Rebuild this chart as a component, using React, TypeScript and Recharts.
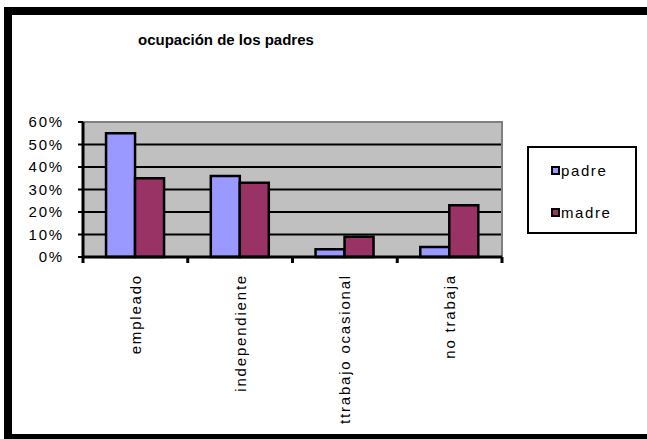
import { BarChart, Bar, XAxis, YAxis, CartesianGrid, ReferenceArea, Legend } from 'recharts'

const categories = ['empleado', 'independiente', 'ttrabajo ocasional', 'no trabaja']
const padre = [55, 36, 3.5, 4.5]
const madre = [35, 33, 9, 23]
const yTicks = [0, 10, 20, 30, 40, 50, 60]
const gridValues = [10, 20, 30, 40, 50]

const series = [
  { key: 'padre', name: 'padre', color: '#9999ff' },
  { key: 'madre', name: 'madre', color: '#993366' },
]

const data = categories.map((name, i) => ({ name, padre: padre[i], madre: madre[i] }))

const font = '"Liberation Sans", Arial, sans-serif'

const YTick = ({ x, y, payload }: any) => (
  <text x={x} y={y} dy="0.36em" textAnchor="end" fill="#000" fontSize={15} fontFamily={font} letterSpacing="1.8px">
    {payload.value}%
  </text>
)

// category label plus tick marks on the category boundaries
const XTick = ({ x, y, payload, index, visibleTicksCount }: any) => {
  const half = payload.offset ?? 0
  const ty = y + 17
  return (
    <g>
      <line x1={x - half} x2={x - half} y1={y} y2={y + 6} stroke="#000" strokeWidth={3} />
      {index === visibleTicksCount - 1 && (
        <line x1={x + half} x2={x + half} y1={y} y2={y + 6} stroke="#000" strokeWidth={3} />
      )}
      <text
        x={x}
        y={ty}
        dy="0.36em"
        textAnchor="end"
        fill="#000"
        fontSize={15}
        fontFamily={font}
        letterSpacing="1.8px"
        transform={`rotate(-90, ${x}, ${ty})`}
      >
        {payload.value}
      </text>
    </g>
  )
}

const LegendBox = () => (
  <div
    style={{
      width: 110,
      height: 88,
      boxSizing: 'border-box',
      border: '2px solid #000',
      background: '#fff',
      fontFamily: font,
      fontSize: 15,
      letterSpacing: '1.6px',
      position: 'relative',
    }}
  >
    {series.map((s, i) => (
      <div
        key={s.key}
        style={{ position: 'absolute', left: 22, top: 12 + i * 42, display: 'flex', alignItems: 'center', height: 20 }}
      >
        <span style={{ width: 5, height: 5, border: '2px solid #000', background: s.color, marginRight: 1 }} />
        <span>{s.name}</span>
      </div>
    ))}
  </div>
)

export default function App() {
  return (
    <div style={{ position: 'absolute', left: 0, top: 0, width: 647, height: 439, background: '#fff', overflow: 'hidden' }}>
      <div
        style={{
          position: 'absolute',
          left: 4,
          top: 7,
          width: 660,
          height: 432,
          boxSizing: 'border-box',
          borderLeft: '8px solid #000',
          borderTop: '8px solid #000',
          borderBottom: '5px solid #000',
        }}
      />
      <div
        style={{
          position: 'absolute',
          left: 138,
          top: 31,
          fontFamily: font,
          fontWeight: 'bold',
          fontSize: 15,
          color: '#000',
        }}
      >
        ocupación de los padres
      </div>
      <div style={{ position: 'absolute', left: 0, top: 0 }}>
        <BarChart
          width={647}
          height={439}
          data={data}
          margin={{ top: 122, right: 145, bottom: 0, left: 0 }}
          barCategoryGap="22%"
          barGap={0}
        >
          <CartesianGrid
            horizontal
            vertical={false}
            horizontalValues={gridValues}
            stroke="#000"
            strokeWidth={2}
            fill="#c0c0c0"
            fillOpacity={1}
          />
          <ReferenceArea y1={0} y2={60} fill="none" stroke="#808080" strokeWidth={2} ifOverflow="visible" />
          <XAxis
            dataKey="name"
            height={182}
            axisLine={{ stroke: '#000', strokeWidth: 3 }}
            tickLine={false}
            tickSize={0}
            tickMargin={0}
            interval={0}
            tick={<XTick />}
          />
          <YAxis
            width={83}
            domain={[0, 60]}
            ticks={yTicks}
            interval={0}
            axisLine={{ stroke: '#000', strokeWidth: 3 }}
            tickLine={{ stroke: '#000', strokeWidth: 2 }}
            tickSize={5}
            tickMargin={14}
            tick={<YTick />}
          />
          <Legend
            layout="vertical"
            align="center"
            verticalAlign="middle"
            content={<LegendBox />}
            wrapperStyle={{ left: 527, top: 146, width: 110, height: 88 }}
          />
          {series.map((s) => (
            <Bar
              key={s.key}
              dataKey={s.key}
              name={s.name}
              fill={s.color}
              stroke="#000"
              strokeWidth={2.5}
              isAnimationActive={false}
            />
          ))}
        </BarChart>
      </div>
    </div>
  )
}
